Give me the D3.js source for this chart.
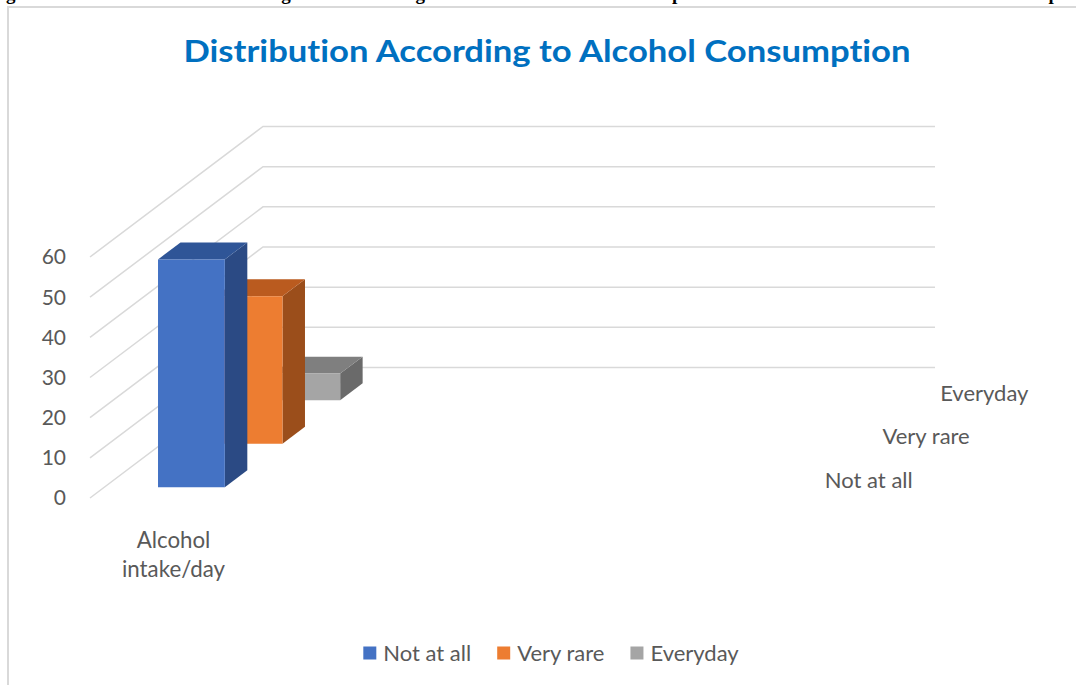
<!DOCTYPE html>
<html><head><meta charset="utf-8">
<script src="https://cdn.jsdelivr.net/npm/d3@7"></script>
<style>
html,body{margin:0;padding:0;background:#fff;}
svg{display:block;}
text{font-variant-ligatures:none;}
</style></head>
<body>
<svg id="chart" width="1076" height="685"></svg>
<script>
// ---- data ----
const categories = ["Alcohol intake/day"];
const series = ["Not at all", "Very rare", "Everyday"];
const values = [56.7, 36.7, 6.6];
const yTicks = [0, 10, 20, 30, 40, 50, 60];
const seriesColors = ["#4472C4", "#ED7D31", "#A5A5A5"];
const seriesTop = ["#2F5597", "#BA5B1F", "#7F7F7F"];
const seriesSide = ["#2B4A84", "#9B4E1B", "#6A6A6A"];
const titleText = "Distribution According to Alcohol Consumption";
const captionText = "gure 3: The below bar diagram showing the distribution of respondents and the nature of the sample";

const svg = d3.select("#chart");
const FONT = "Lato, 'Open Sans', sans-serif";
const TXT = "#595959";

// caption line cut off at the top edge
svg.append("text").attr("x", 6).attr("y", -0.5)
  .attr("font-family", "'Liberation Serif', serif").attr("font-size", 19)
  .attr("font-weight", "bold").attr("fill", "#000")
  .attr("textLength", 1072).attr("lengthAdjust", "spacing")
  .text(captionText);
svg.append("rect").attr("x", 0).attr("y", 6).attr("width", 1076).attr("height", 679).attr("fill", "#fff");

// frame
svg.append("path").attr("d", "M8,685 L8,7 L1076,7").attr("fill", "none")
  .attr("stroke", "#d9d9d9").attr("stroke-width", 2);

// title
svg.append("text").attr("x", 547).attr("y", 62).attr("text-anchor", "middle")
  .attr("font-family", FONT).attr("font-weight", "bold").attr("font-size", 30)
  .attr("fill", "#0070C0").attr("textLength", 727).attr("lengthAdjust", "spacingAndGlyphs")
  .text(titleText);

// ---- 3D projection ----
const plotLeft = 90, plotRight = 762;
const DX = 173, DY = -130.5;
const y = d3.scaleLinear().domain([0, 60]).range([498, 257]);
const x = d3.scaleBand().domain(categories).range([plotLeft, plotLeft + 174]);
const z = d3.scaleBand().domain(series).range([0, 1]);
const P = (px, v, d) => [px + d * DX, y(v) + d * DY];

// gridlines (side wall + back wall)
const g = svg.append("g");
yTicks.forEach(v => {
  const a = P(plotLeft, v, 0), b = P(plotLeft, v, 1), c = P(plotRight, v, 1);
  g.append("path").attr("d", `M${a}L${b}L${c}`).attr("fill", "none")
    .attr("stroke", "#d9d9d9").attr("stroke-width", 1.5);
});

// y tick labels
svg.append("g").selectAll("text").data(yTicks).join("text")
  .attr("x", 66).attr("y", d => y(d)).attr("dy", "0.35em").attr("text-anchor", "end")
  .attr("font-family", FONT).attr("font-size", 21).attr("fill", TXT)
  .text(d => d);

// bars, back to front
const bars = series.map((s, i) => ({s, i, v: values[i]})).reverse();
const bg = svg.append("g");
categories.forEach(cat => {
  const bw = x.bandwidth();
  const xl = x(cat) + bw * 0.308, xr = x(cat) + bw * 0.692;
  bars.forEach(b => {
    const d0 = z(b.s) + z.bandwidth() * 0.25, d1 = z(b.s) + z.bandwidth() * 0.64;
    const poly = pts => "M" + pts.map(p => p.join(",")).join("L") + "Z";
    bg.append("path").attr("d", poly([P(xr, b.v, d0), P(xr, b.v, d1), P(xr, 0, d1), P(xr, 0, d0)]))
      .attr("fill", seriesSide[b.i]);
    bg.append("path").attr("d", poly([P(xl, b.v, d0), P(xl, b.v, d1), P(xr, b.v, d1), P(xr, b.v, d0)]))
      .attr("fill", seriesTop[b.i]);
    bg.append("path").attr("d", poly([P(xl, b.v, d0), P(xr, b.v, d0), P(xr, 0, d0), P(xl, 0, d0)]))
      .attr("fill", seriesColors[b.i]);
  });
  const cx = x(cat) + bw / 2 - 3.5;
  const words = ["Alcohol", "intake/day"];
  svg.append("text").attr("x", cx).attr("y", 540).attr("text-anchor", "middle")
    .attr("font-family", FONT).attr("font-size", 22.3).attr("fill", TXT)
    .selectAll("tspan").data(words).join("tspan")
    .attr("x", cx).attr("dy", (d, i) => i === 0 ? "0.35em" : "1.33em").text(d => d);
});

// depth axis labels
svg.append("g").selectAll("text").data(series).join("text")
  .attr("x", s => P(plotRight, 0, z(s) + z.bandwidth() / 2)[0] + 34)
  .attr("y", s => P(plotRight, 0, z(s) + z.bandwidth() / 2)[1] + 4)
  .attr("dy", "0.35em").attr("font-family", FONT).attr("font-size", 22).attr("fill", TXT)
  .text(s => s);

// legend
const lg = svg.append("g");
let lx = 0;
series.forEach((s, i) => {
  const it = lg.append("g").attr("transform", `translate(${lx},0)`);
  it.append("rect").attr("x", 0).attr("y", -6.5).attr("width", 13).attr("height", 13).attr("fill", seriesColors[i]);
  const t = it.append("text").attr("x", 20).attr("y", 0).attr("dy", "0.35em")
    .attr("font-family", FONT).attr("font-size", 22).attr("fill", TXT).text(s);
  lx += 20 + t.node().getComputedTextLength() + 26;
});
const lw = lx - 26;
lg.attr("transform", `translate(${551 - lw / 2},653)`);
</script>
</body></html>
